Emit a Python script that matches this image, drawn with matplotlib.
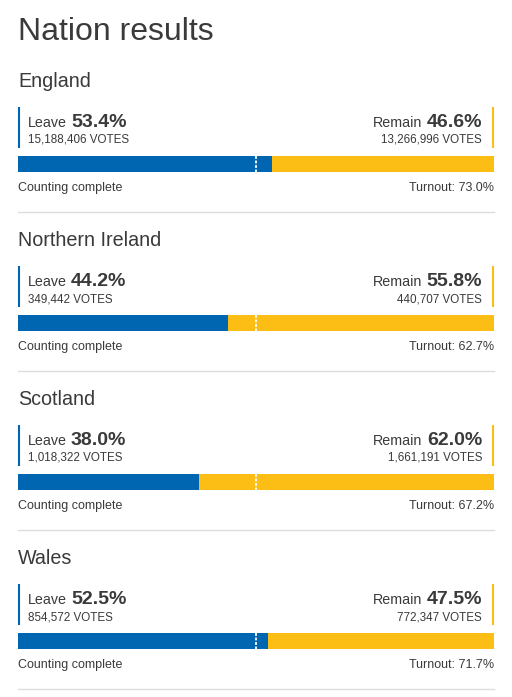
import matplotlib.pyplot as plt

# Nation results (EU referendum)
nations = ["England", "Northern Ireland", "Scotland", "Wales"]
leave_pct = [53.4, 44.2, 38.0, 52.5]
remain_pct = [46.6, 55.8, 62.0, 47.5]
leave_votes = [15188406, 349442, 1018322, 854572]
remain_votes = [13266996, 440707, 1661191, 772347]
turnout = [73.0, 62.7, 67.2, 71.7]

blue = "#0166B2"
yellow = "#FCBE14"
dark = "#3a3a3a"


def main():
    plt.rcParams["font.family"] = ["Liberation Sans", "DejaVu Sans"]

    fig = plt.figure(figsize=(5.12, 6.97), dpi=100)
    ax = fig.add_axes([0, 0, 1, 1])
    ax.set_xlim(0, 512)
    ax.set_ylim(697, 0)
    ax.axis("off")
    r = fig.canvas.get_renderer()

    x0, x1 = 18, 494
    w = x1 - x0

    ax.text(x0, 40, "Nation results", fontsize=23, color=dark, va="baseline")

    for i, name in enumerate(nations):
        top = 87 + i * 159
        ax.text(x0, top, name, fontsize=14.2, color=dark, va="baseline")

        # leave side
        ax.plot([x0 + 1, x0 + 1], [top + 20, top + 61], color=blue, lw=1.5,
                solid_capstyle="butt")
        t = ax.text(28, top + 40, "Leave", fontsize=10.3, color=dark, va="baseline")
        bb = t.get_window_extent(r)
        ax.text(bb.x1 + 4, top + 40, f"{leave_pct[i]:.1f}%", fontsize=14,
                fontweight="bold", color=dark, va="baseline")
        ax.text(28, top + 56, f"{leave_votes[i]:,} VOTES", fontsize=8.4,
                color=dark, va="baseline")

        # remain side
        ax.plot([x1 - 1, x1 - 1], [top + 20, top + 61], color=yellow, lw=1.5,
                solid_capstyle="butt")
        p = ax.text(482, top + 40, f"{remain_pct[i]:.1f}%", fontsize=14,
                    fontweight="bold", color=dark, va="baseline", ha="right")
        bb = p.get_window_extent(r)
        ax.text(bb.x0 - 4, top + 40, "Remain", fontsize=10.3, color=dark,
                va="baseline", ha="right")
        ax.text(482, top + 56, f"{remain_votes[i]:,} VOTES", fontsize=8.4,
                color=dark, va="baseline", ha="right")

        # bar
        lw_ = leave_pct[i] / 100 * w
        ax.barh(top + 77, lw_, left=x0, height=16, color=blue)
        ax.barh(top + 77, remain_pct[i] / 100 * w, left=x0 + lw_, height=16,
                color=yellow)
        ax.plot([x0 + w / 2] * 2, [top + 69, top + 85], color="white", lw=1.3,
                ls=(0, (1.6, 0.9)))

        ax.text(x0, top + 104, "Counting complete", fontsize=9, color=dark,
                va="baseline")
        ax.text(x1, top + 104, f"Turnout: {turnout[i]:.1f}%", fontsize=9,
                color=dark, va="baseline", ha="right")

        ax.plot([x0, x1], [top + 125] * 2, color="#dddddd", lw=1)

    fig.savefig("out.png", dpi=100)


if __name__ == "__main__":
    main()
